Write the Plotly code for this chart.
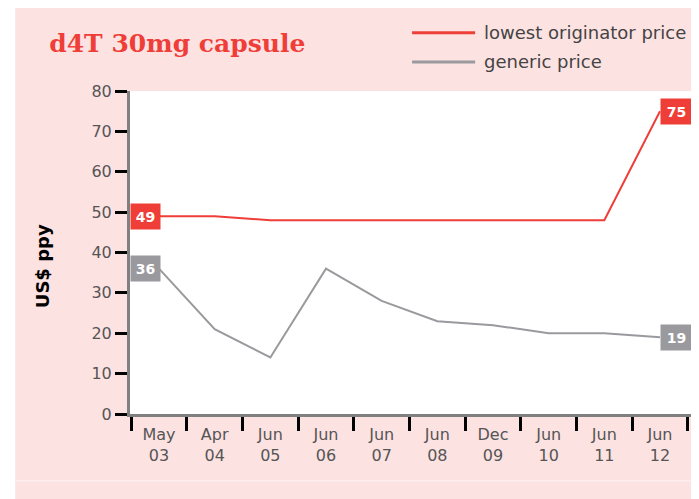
import plotly.graph_objects as go

# categories and values
periods = ["May 03", "Apr 04", "Jun 05", "Jun 06", "Jun 07", "Jun 08",
           "Dec 09", "Jun 10", "Jun 11", "Jun 12"]
period_labels = ["May<br>03", "Apr<br>04", "Jun<br>05", "Jun<br>06", "Jun<br>07",
                 "Jun<br>08", "Dec<br>09", "Jun<br>10", "Jun<br>11", "Jun<br>12"]
originator = [49, 49, 48, 48, 48, 48, 48, 48, 48, 75]
generic = [36, 21, 14, 36, 28, 23, 22, 20, 20, 19]
y_ticks = [0, 10, 20, 30, 40, 50, 60, 70, 80]

RED = "#ef3e38"
GREY = "#9a9a9e"
PINK = "#fde2e2"
TICK_FONT = dict(family="DejaVu Sans", size=16, color="#555")

fig = go.Figure()
fig.add_trace(go.Scatter(x=periods, y=originator, mode="lines",
                         line=dict(color=RED, width=2), name="lowest originator price"))
fig.add_trace(go.Scatter(x=periods, y=generic, mode="lines",
                         line=dict(color=GREY, width=2), name="generic price"))

# end-point value boxes
annos = []
for series, col in [(originator, RED), (generic, GREY)]:
    annos.append(dict(x=periods[0], y=series[0], text=f"<b>{series[0]}</b>",
                      xanchor="right", xshift=2, showarrow=False, bgcolor=col,
                      width=29, height=25, borderpad=0,
                      font=dict(color="white", size=14, family="DejaVu Sans")))
    annos.append(dict(x=periods[-1], y=series[-1], text=f"<b>{series[-1]}</b>",
                      xanchor="left", showarrow=False, bgcolor=col,
                      width=31, height=25, borderpad=0,
                      font=dict(color="white", size=14, family="DejaVu Sans")))

# y-axis title placed by hand
annos.append(dict(xref="paper", yref="paper", x=-0.156, y=0.458, text="<b>US$ ppy</b>",
                  textangle=-90, showarrow=False, xanchor="center", yanchor="middle",
                  font=dict(family="DejaVu Sans", size=18, color="black")))

# hand-drawn legend
legend_items = [("lowest originator price", RED, 1.180), ("generic price", GREY, 1.090)]
shapes = [
    dict(type="rect", xref="paper", yref="paper", x0=-1, x1=-0.204, y0=-1, y1=2,
         fillcolor="white", line_width=0, layer="above"),
    dict(type="line", xref="paper", yref="paper", x0=-0.204, x1=2, y0=-0.207, y1=-0.207,
         line=dict(color="#fff2f2", width=1)),
]
for text, col, ypos in legend_items:
    shapes.append(dict(type="line", xref="paper", yref="paper", x0=0.501, x1=0.613,
                       y0=ypos, y1=ypos, line=dict(color=col, width=3)))
    annos.append(dict(xref="paper", yref="paper", x=0.625, y=ypos, text=text,
                      xanchor="left", yanchor="middle", showarrow=False,
                      font=dict(size=18, color="#444", family="DejaVu Sans")))

fig.update_layout(
    width=699, height=499,
    margin=dict(l=122, r=14, t=83, b=93),
    paper_bgcolor=PINK,
    plot_bgcolor="white",
    showlegend=False,
    title=dict(text="<b>d4T 30mg capsule</b>", x=0.059, xanchor="left",
               y=0.930, yanchor="middle",
               font=dict(family="DejaVu Serif", size=25, color=RED)),
    xaxis=dict(
        type="category", tickvals=periods, ticktext=period_labels,
        tickson="boundaries", ticks="outside", ticklen=14, tickwidth=3,
        tickcolor="black", showline=True, linecolor="#808080", linewidth=3,
        showgrid=False, zeroline=False, tickfont=TICK_FONT, ticklabelstandoff=4,
    ),
    yaxis=dict(
        range=[0, 80], tickvals=y_ticks, ticks="outside", ticklen=12, tickwidth=3,
        tickcolor="black", showline=True, linecolor="#808080", linewidth=3,
        showgrid=False, zeroline=False, tickfont=TICK_FONT,
    ),
    shapes=shapes,
    annotations=annos,
)

fig.write_html("out.html")
